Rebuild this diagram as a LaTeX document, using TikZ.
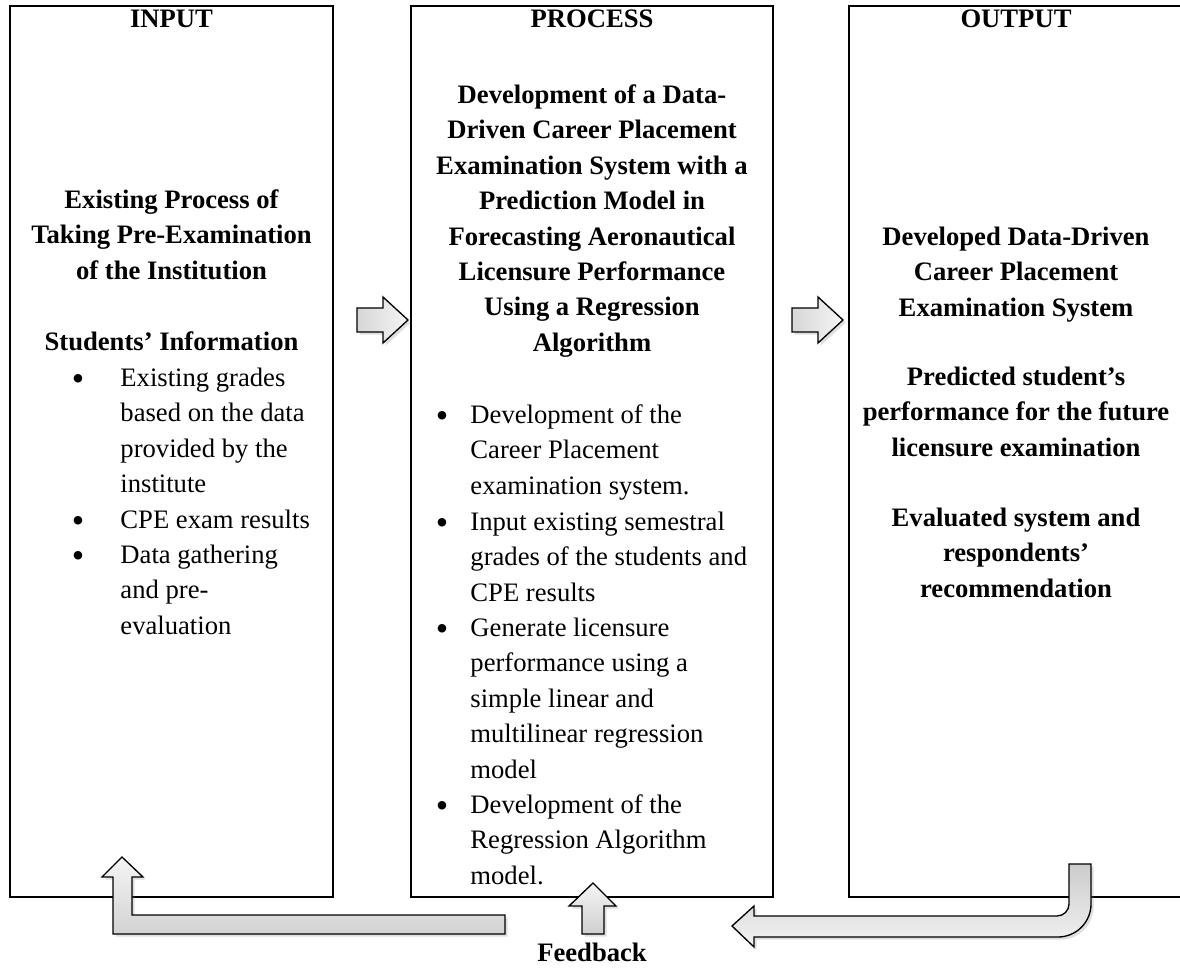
\documentclass[tikz,border=0pt]{standalone}
\usepackage{fontspec}
\setmainfont{Liberation Serif}
\usetikzlibrary{shadows}
\newcommand{\bigdot}{\raisebox{-0.35ex}{\fontsize{16}{16}\selectfont\textbullet}}

\begin{document}
\begin{tikzpicture}[x=0.4505pt,y=-0.4505pt,
  panel/.style={draw,line width=0.9pt,inner sep=0},
  txt/.style={anchor=north,inner sep=0,yshift=11.17pt,font=\fontsize{12}{15.95}\selectfont},
  head/.style={txt,align=center,font=\fontsize{12}{15.95}\selectfont\bfseries},
  item/.style={txt,anchor=north west,align=left},
  blockarrow/.style={draw,line width=0.6pt,line join=miter,
    drop shadow={shadow xshift=1.2pt,shadow yshift=-1.2pt,opacity=0.25}}]
\useasboundingbox (0,0) rectangle (1180,969);
% the three panels
\node[panel,minimum width=145.5pt,minimum height=401.4pt] (inbox) at (171.5,451.5) {};
\node[panel,minimum width=163.1pt,minimum height=401.4pt] (procbox) at (592,451.5) {};
\node[panel,minimum width=150.5pt,minimum height=401.4pt] (outbox) at (1016,451.5) {};
% input panel
\node[head] (inhead) at (171.5,27) {\strut INPUT};
\node[head] (intitle) at (171.5,208) {\strut Existing Process of\\Taking Pre-Examination\\of the Institution};
\node[head] (instud) at (171.5,350) {\strut Students’ Information};
\node[txt] (indot1) at (78,386) {\strut\bigdot};
\node[item] (initem1) at (120,386) {\strut Existing grades\\based on the data\\provided by the\\institute};
\node[txt] (indot2) at (78,528) {\strut\bigdot};
\node[item] (initem2) at (120,528) {\strut CPE exam results};
\node[txt] (indot3) at (78,563) {\strut\bigdot};
\node[item] (initem3) at (120,563) {\strut Data gathering\\and pre-\\evaluation};
% process panel
\node[head] (prochead) at (592,27) {\strut PROCESS};
\node[head] (proctitle) at (592,103) {\strut Development of a Data-\\Driven Career Placement\\Examination System with a\\Prediction Model in\\Forecasting Aeronautical\\Licensure Performance\\Using a Regression\\Algorithm};
\node[txt] (procdot1) at (442,423) {\strut\bigdot};
\node[item] (procitem1) at (470,423) {\strut Development of the\\Career Placement\\examination system.};
\node[txt] (procdot2) at (442,530) {\strut\bigdot};
\node[item] (procitem2) at (470,530) {\strut Input existing semestral\\grades of the students and\\CPE results};
\node[txt] (procdot3) at (442,636) {\strut\bigdot};
\node[item] (procitem3) at (470,636) {\strut Generate licensure\\performance using a\\simple linear and\\multilinear regression\\model};
\node[txt] (procdot4) at (442,813) {\strut\bigdot};
\node[item] (procitem4) at (470,813) {\strut Development of the\\Regression Algorithm\\model.};
% output panel
\node[head] (outhead) at (1016,27) {\strut OUTPUT};
\node[head] (outtitle) at (1016,245) {\strut Developed Data-Driven\\Career Placement\\Examination System};
\node[head] (outpred) at (1016,385) {\strut Predicted student’s\\performance for the future\\licensure examination};
\node[head] (outeval) at (1016,526) {\strut Evaluated system and\\respondents’\\recommendation};
% block arrows between panels
\draw[blockarrow,left color=gray!32,right color=gray!8]
  (357,308) -- (383,308) -- (383,297) -- (408,320) -- (383,343) -- (383,332) -- (357,332) -- cycle;
\draw[blockarrow,left color=gray!32,right color=gray!8]
  (792,308) -- (818,308) -- (818,297) -- (843,320) -- (818,343) -- (818,332) -- (792,332) -- cycle;
% feedback arrows
\draw[blockarrow,top color=gray!8,bottom color=gray!35]
  (505,915) -- (132,915) -- (132,877) -- (143,877) -- (122,857) -- (102,877) -- (113,877) -- (113,934) -- (505,934) -- cycle;
\draw[blockarrow,top color=gray!8,bottom color=gray!38]
  (582,934) -- (582,906) -- (569,906) -- (593,883) -- (616,906) -- (604,906) -- (604,934) -- cycle;
\draw[blockarrow,top color=gray!40,bottom color=gray!10]
  (1069,864) -- (1091,864) -- (1091,904) .. controls (1091,922.2) and (1076.2,937) .. (1058,937)
  -- (754,937) -- (754,947) -- (732,926) -- (754,906) -- (754,916) -- (1057,916)
  .. controls (1063.6,916) and (1069,910.6) .. (1069,904) -- cycle;
\node[head] (fb) at (592,961) {\strut Feedback};
\end{tikzpicture}
\end{document}
